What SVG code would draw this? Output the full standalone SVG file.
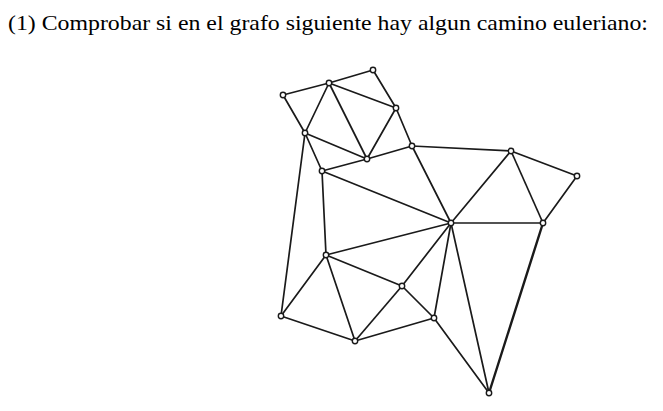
<svg xmlns="http://www.w3.org/2000/svg" width="663" height="411" viewBox="0 0 663 411">
<style>
.e{stroke:#1a1a1a;stroke-width:1.7;fill:none;stroke-linecap:round}
.n{fill:#fff;stroke:#1a1a1a;stroke-width:1.4}
.t{font-family:"Liberation Serif","DejaVu Serif",serif;font-size:21px;fill:#000}
</style>
<rect width="663" height="411" fill="#fff"/>
<text class="t" x="8" y="30" textLength="640" lengthAdjust="spacingAndGlyphs">(1) Comprobar si en el grafo siguiente hay algun camino euleriano:</text>
<g id="edges">
<line class="e" x1="283" y1="95" x2="329" y2="83"/>
<line class="e" x1="329" y1="83" x2="373" y2="70"/>
<line class="e" x1="283" y1="95" x2="305" y2="133"/>
<line class="e" x1="329" y1="83" x2="305" y2="133"/>
<line class="e" x1="329" y1="83" x2="367" y2="159"/>
<line class="e" x1="329" y1="83" x2="396" y2="108"/>
<line class="e" x1="373" y1="70" x2="396" y2="108"/>
<line class="e" x1="396" y1="108" x2="367" y2="159"/>
<line class="e" x1="305" y1="133" x2="367" y2="159"/>
<line class="e" x1="396" y1="108" x2="412" y2="146"/>
<line class="e" x1="367" y1="159" x2="412" y2="146"/>
<line class="e" x1="305" y1="133" x2="322" y2="171"/>
<line class="e" x1="322" y1="171" x2="367" y2="159"/>
<line class="e" x1="305" y1="133" x2="281" y2="316"/>
<line class="e" x1="412" y1="146" x2="451" y2="223"/>
<line class="e" x1="412" y1="146" x2="511" y2="151"/>
<line class="e" x1="322" y1="171" x2="451" y2="223"/>
<line class="e" x1="322" y1="171" x2="326" y2="255"/>
<line class="e" x1="511" y1="151" x2="577" y2="176"/>
<line class="e" x1="511" y1="151" x2="451" y2="223"/>
<line class="e" x1="511" y1="151" x2="543" y2="223"/>
<line class="e" x1="577" y1="176" x2="543" y2="223"/>
<line class="e" x1="451" y1="223" x2="543" y2="223"/>
<line class="e" x1="543" y1="223" x2="489" y2="393" style="stroke-width:2.4"/>
<line class="e" x1="451" y1="223" x2="326" y2="255"/>
<line class="e" x1="451" y1="223" x2="402" y2="286"/>
<line class="e" x1="451" y1="223" x2="434" y2="318"/>
<line class="e" x1="451" y1="223" x2="489" y2="393"/>
<line class="e" x1="326" y1="255" x2="281" y2="316"/>
<line class="e" x1="326" y1="255" x2="402" y2="286"/>
<line class="e" x1="326" y1="255" x2="355" y2="341"/>
<line class="e" x1="281" y1="316" x2="355" y2="341"/>
<line class="e" x1="355" y1="341" x2="402" y2="286"/>
<line class="e" x1="402" y1="286" x2="434" y2="318"/>
<line class="e" x1="355" y1="341" x2="434" y2="318"/>
<line class="e" x1="434" y1="318" x2="489" y2="393"/>
</g>
<g id="nA"><circle class="n" cx="283" cy="95" r="2.7"/></g>
<g id="nB"><circle class="n" cx="329" cy="83" r="2.7"/></g>
<g id="nC"><circle class="n" cx="373" cy="70" r="2.7"/></g>
<g id="nD"><circle class="n" cx="396" cy="108" r="2.7"/></g>
<g id="nE"><circle class="n" cx="305" cy="133" r="2.7"/></g>
<g id="nF"><circle class="n" cx="367" cy="159" r="2.7"/></g>
<g id="nG"><circle class="n" cx="412" cy="146" r="2.7"/></g>
<g id="nH"><circle class="n" cx="322" cy="171" r="2.7"/></g>
<g id="nI"><circle class="n" cx="511" cy="151" r="2.7"/></g>
<g id="nJ"><circle class="n" cx="577" cy="176" r="2.7"/></g>
<g id="nK"><circle class="n" cx="451" cy="223" r="2.7"/></g>
<g id="nL"><circle class="n" cx="543" cy="223" r="2.7"/></g>
<g id="nM"><circle class="n" cx="326" cy="255" r="2.7"/></g>
<g id="nN"><circle class="n" cx="402" cy="286" r="2.7"/></g>
<g id="nO"><circle class="n" cx="281" cy="316" r="2.7"/></g>
<g id="nP"><circle class="n" cx="355" cy="341" r="2.7"/></g>
<g id="nQ"><circle class="n" cx="434" cy="318" r="2.7"/></g>
<g id="nR"><circle class="n" cx="489" cy="393" r="2.7"/></g>
</svg>
